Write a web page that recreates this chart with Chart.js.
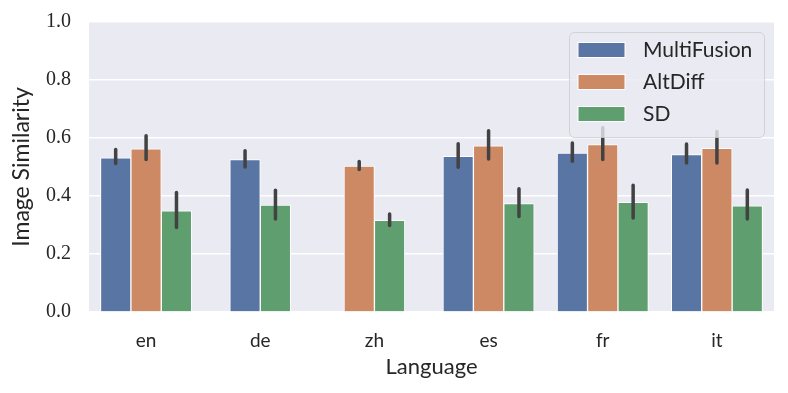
<!DOCTYPE html>
<html>
<head>
<meta charset="utf-8">
<script src="https://cdn.jsdelivr.net/npm/chart.js@4.4.1/dist/chart.umd.min.js"></script>
<style>
  html, body { margin: 0; padding: 0; background: #ffffff; }
  #wrap { width: 788px; height: 393px; }
</style>
</head>
<body>
<div id="wrap"><canvas id="c" width="788" height="393"></canvas></div>
<script>
const categories = ['en', 'de', 'zh', 'es', 'fr', 'it'];
const seriesNames = ['MultiFusion', 'AltDiff', 'SD'];
const multiFusion = [0.532, 0.526, null, 0.537, 0.548, 0.543];
const altDiff     = [0.563, null, 0.503, 0.573, 0.577, 0.564];
const sd          = [0.349, 0.369, 0.316, 0.374, 0.378, 0.366];
const mfLow  = [0.512, 0.500, null, 0.499, 0.520, 0.514];
const mfHigh = [0.560, 0.556, null, 0.580, 0.583, 0.579];
const adLow  = [0.526, null, 0.491, 0.528, 0.526, 0.514];
const adHigh = [0.608, null, 0.519, 0.625, 0.635, 0.622];
const sdLow  = [0.291, 0.321, 0.298, 0.329, 0.324, 0.321];
const sdHigh = [0.412, 0.420, 0.338, 0.425, 0.437, 0.421];
const yTicks = [0.0, 0.2, 0.4, 0.6, 0.8, 1.0];

const colors = ['#5875a4', '#cc8963', '#5f9e6e'];
const SANS = 'Lato, "Open Sans", sans-serif';
const SERIF = '"Liberation Serif", serif';
const TEXT = '#262626';

const errLows = [mfLow, adLow, sdLow];
const errHighs = [mfHigh, adHigh, sdHigh];

const bgPlugin = {
  id: 'bg',
  beforeDraw(chart) {
    const {ctx, chartArea: a} = chart;
    ctx.save();
    ctx.fillStyle = '#eaeaf2';
    ctx.fillRect(a.left, a.top, a.right - a.left, a.bottom - a.top);
    ctx.restore();
  }
};

const overlayPlugin = {
  id: 'overlay',
  afterDatasetsDraw(chart) {
    const ctx = chart.ctx;
    const ys = chart.scales.y;
    ctx.save();
    ctx.strokeStyle = '#424242';
    ctx.lineWidth = 3.5;
    ctx.lineCap = 'round';
    chart.data.datasets.forEach((ds, di) => {
      const meta = chart.getDatasetMeta(di);
      meta.data.forEach((el, i) => {
        const lo = errLows[di][i], hi = errHighs[di][i];
        if (lo == null || hi == null || ds.data[i] == null) return;
        ctx.beginPath();
        ctx.moveTo(el.x, ys.getPixelForValue(lo));
        ctx.lineTo(el.x, ys.getPixelForValue(hi));
        ctx.stroke();
      });
    });
    ctx.restore();
  },
  afterDraw(chart) {
    const ctx = chart.ctx;
    const a = chart.chartArea;
    const bw = 195, bh = 105;
    const bx = a.right - 10 - bw, by = a.top + 10;
    ctx.save();
    ctx.beginPath();
    ctx.roundRect(bx + 0.5, by + 0.5, bw, bh, 5);
    ctx.fillStyle = 'rgba(234,234,242,0.8)';
    ctx.fill();
    ctx.strokeStyle = 'rgba(204,204,204,0.8)';
    ctx.lineWidth = 1;
    ctx.stroke();
    ctx.font = '21px ' + SANS;
    ctx.textBaseline = 'middle';
    ctx.textAlign = 'left';
    seriesNames.forEach((name, i) => {
      const cy = by + 18 + i * 32;
      ctx.fillStyle = colors[i];
      ctx.fillRect(bx + 9, cy - 7.5, 47, 15);
      ctx.strokeStyle = '#ffffff';
      ctx.lineWidth = 1;
      ctx.strokeRect(bx + 9, cy - 7.5, 47, 15);
      ctx.fillStyle = TEXT;
      ctx.fillText(name, bx + 74, cy);
    });
    ctx.restore();
  }
};

new Chart(document.getElementById('c'), {
  type: 'bar',
  data: {
    labels: categories,
    datasets: [
      { label: seriesNames[0], data: multiFusion, backgroundColor: colors[0] },
      { label: seriesNames[1], data: altDiff, backgroundColor: colors[1] },
      { label: seriesNames[2], data: sd, backgroundColor: colors[2] }
    ].map(d => Object.assign(d, { borderColor: '#ffffff', borderWidth: 1, barThickness: 30.4, skipNull: true }))
  },
  options: {
    responsive: false,
    animation: false,
    devicePixelRatio: 1,
    layout: { padding: { left: 0, right: 14, top: 22, bottom: 0 } },
    plugins: { legend: { display: false }, tooltip: { enabled: false } },
    scales: {
      x: {
        grid: { display: false },
        border: { display: false },
        ticks: { color: TEXT, font: { family: SANS, size: 19 }, padding: 9 },
        title: { display: true, text: 'Language', color: TEXT, font: { family: SANS, size: 22 }, padding: { top: 0, bottom: 13 } },
        afterFit(s) { s.height = 81; s.paddingLeft = 0; s.paddingRight = 0; }
      },
      y: {
        min: 0, max: 1,
        afterBuildTicks(s) { s.ticks = yTicks.map(v => ({ value: v })); },
        grid: { color: '#ffffff', lineWidth: 1.5, drawTicks: false },
        border: { display: false },
        ticks: { color: TEXT, font: { family: SERIF, size: 20 }, padding: 18, callback: v => Number(v).toFixed(1) },
        title: { display: true, text: 'Image Similarity', color: TEXT, font: { family: SANS, size: 23 }, padding: { top: 8, bottom: 0 } },
        afterFit(s) { s.width = 89; s.paddingTop = 0; s.paddingBottom = 0; }
      }
    }
  },
  plugins: [bgPlugin, overlayPlugin]
});
</script>
</body>
</html>
